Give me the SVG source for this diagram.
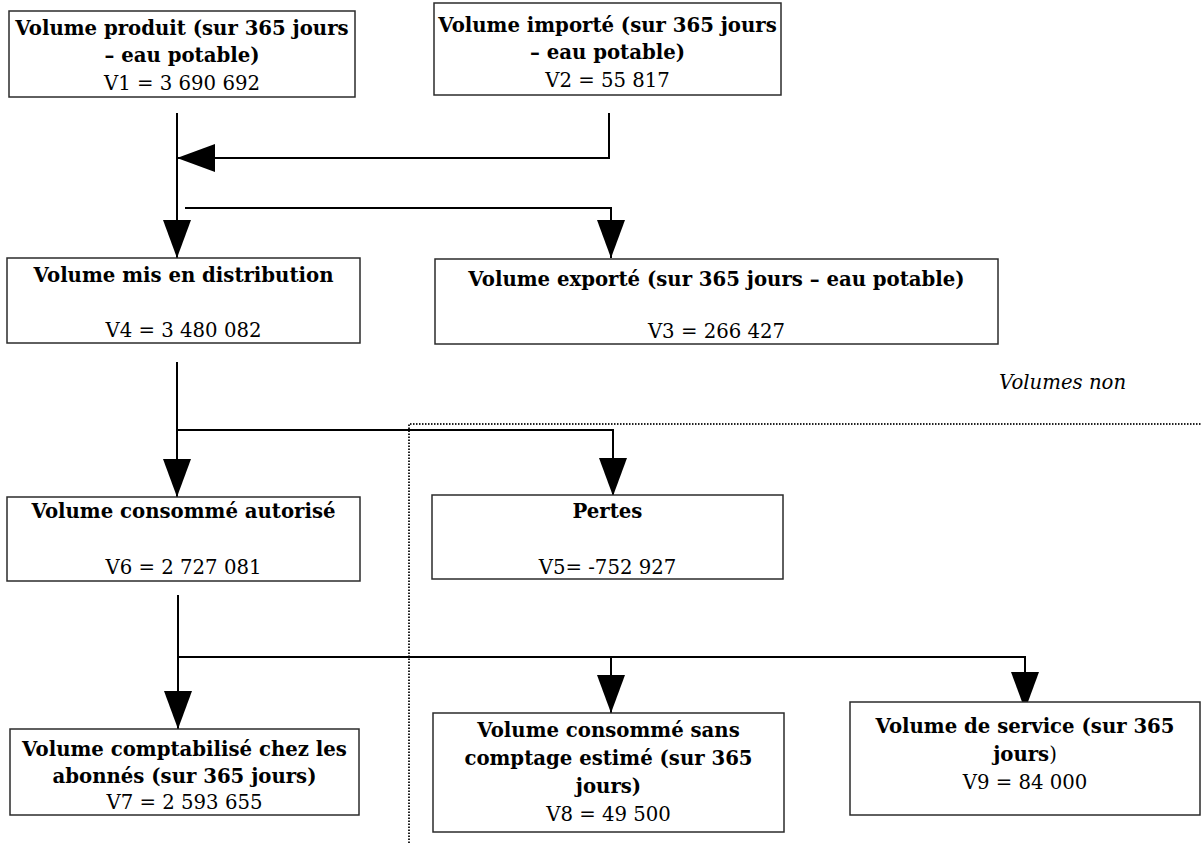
<svg xmlns="http://www.w3.org/2000/svg" width="1202" height="843" viewBox="0 0 1202 843">
<style>
.box{fill:#fff;stroke:#2b2b2b;stroke-width:1.5}
.t{font-family:"DejaVu Serif","Liberation Serif",serif;font-size:19.7px;fill:#000;text-anchor:middle}
.b{font-weight:bold}
.i{font-style:italic;text-anchor:start}
.c{fill:none;stroke:#000;stroke-width:2}
.dot{fill:none;stroke:#222;stroke-width:2;stroke-dasharray:1.5 1.5}
</style>
<defs>
<marker id="ah" markerUnits="userSpaceOnUse" markerWidth="40" markerHeight="30" refX="38" refY="14" orient="auto" viewBox="0 0 40 30">
<path d="M0,0 L38,14 L0,28 Z" fill="#000"/>
</marker>
</defs>
<rect width="1202" height="843" fill="#fff"/>
<g id="separator">
<path class="dot" d="M409,843 L409,424 L1202,424"/>
<text class="t i" x="999" y="389">Volumes non</text>
</g>
<g id="connectors">
<path class="c" d="M177,113 L177,258" marker-end="url(#ah)"/>
<path class="c" d="M609,113 L609,158 L177,158" marker-end="url(#ah)"/>
<path class="c" d="M185,208 L611,208 L611,258" marker-end="url(#ah)"/>
<path class="c" d="M177,362 L177,497" marker-end="url(#ah)"/>
<path class="c" d="M177,430 L613,430 L613,496" marker-end="url(#ah)"/>
<path class="c" d="M178,595 L178,729" marker-end="url(#ah)"/>
<path class="c" d="M178,657 L1025,657 L1025,710" marker-end="url(#ah)"/>
<path class="c" d="M611,657 L611,713" marker-end="url(#ah)"/>
</g>
<g id="v1">
<rect class="box" x="9" y="11" width="346" height="86"/>
<text class="t b" x="182" y="35">Volume produit (sur 365 jours</text>
<text class="t b" x="182" y="62">– eau potable)</text>
<text class="t" x="182" y="90">V1 = 3 690 692</text>
</g>
<g id="v2">
<rect class="box" x="434" y="3" width="347" height="92"/>
<text class="t b" x="607.5" y="32">Volume importé (sur 365 jours</text>
<text class="t b" x="607.5" y="59">– eau potable)</text>
<text class="t" x="607.5" y="87">V2 = 55 817</text>
</g>
<g id="v4">
<rect class="box" x="7" y="258" width="353" height="85"/>
<text class="t b" x="183.5" y="282">Volume mis en distribution</text>
<text class="t" x="183.5" y="337">V4 = 3 480 082</text>
</g>
<g id="v3">
<rect class="box" x="435" y="259" width="563" height="85"/>
<text class="t b" x="716.5" y="286">Volume exporté (sur 365 jours – eau potable)</text>
<text class="t" x="716.5" y="338">V3 = 266 427</text>
</g>
<g id="v6">
<rect class="box" x="7" y="497" width="353" height="84"/>
<text class="t b" x="183.5" y="518">Volume consommé autorisé</text>
<text class="t" x="183.5" y="574">V6 = 2 727 081</text>
</g>
<g id="v5">
<rect class="box" x="432" y="495" width="351" height="84"/>
<text class="t b" x="607.5" y="518">Pertes</text>
<text class="t" x="607.5" y="574">V5= -752 927</text>
</g>
<g id="v7">
<rect class="box" x="10" y="729" width="349" height="86"/>
<text class="t b" x="184.5" y="756">Volume comptabilisé chez les</text>
<text class="t b" x="184.5" y="783">abonnés (sur 365 jours)</text>
<text class="t" x="184.5" y="809">V7 = 2 593 655</text>
</g>
<g id="v8">
<rect class="box" x="433" y="713" width="351" height="119"/>
<text class="t b" x="608.5" y="737">Volume consommé sans</text>
<text class="t b" x="608.5" y="765">comptage estimé (sur 365</text>
<text class="t b" x="608.5" y="793">jours)</text>
<text class="t" x="608.5" y="821">V8 = 49 500</text>
</g>
<g id="v9">
<rect class="box" x="850" y="702" width="350" height="113"/>
<text class="t b" x="1025" y="733">Volume de service (sur 365</text>
<text class="t b" x="1025" y="761">jours<tspan font-weight="normal">)</tspan></text>
<text class="t" x="1025" y="789">V9 = 84 000</text>
</g>
</svg>
